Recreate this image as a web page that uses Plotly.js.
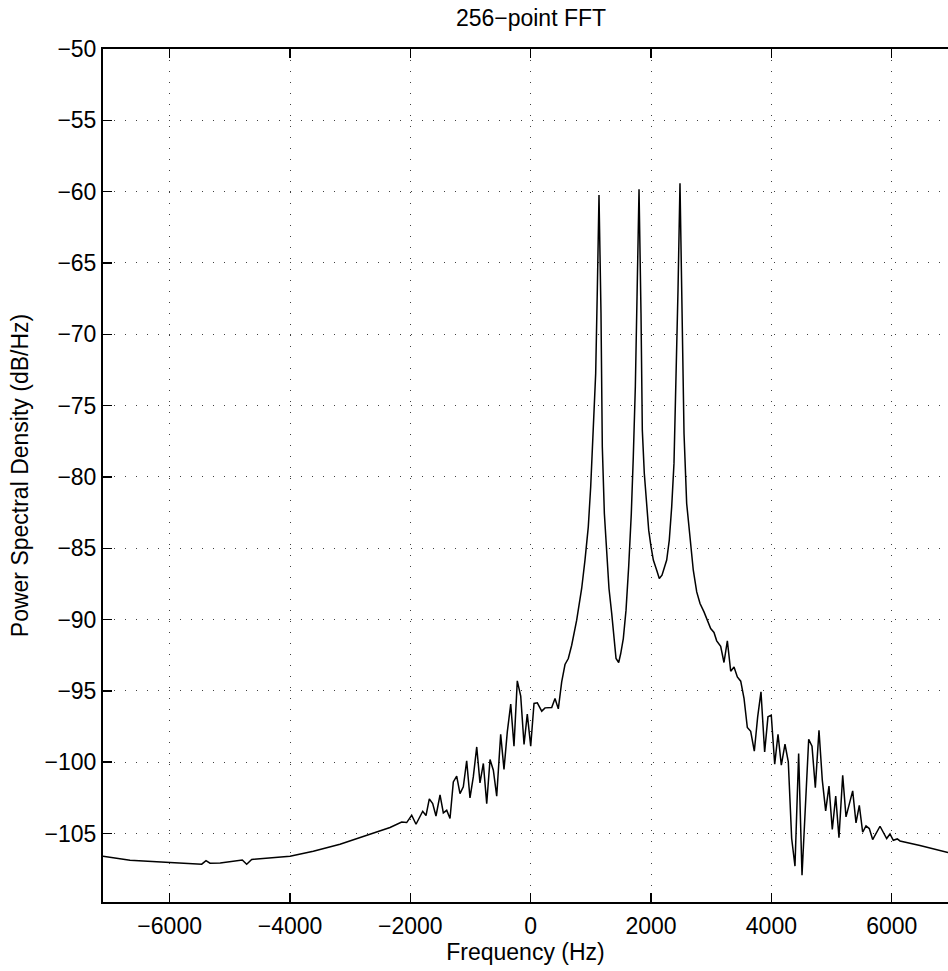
<!DOCTYPE html>
<html>
<head>
<meta charset="utf-8">
<script src="https://cdn.plot.ly/plotly-3.0.1.min.js"></script>
<style>
  html, body { margin: 0; padding: 0; background: #ffffff; overflow: hidden; }
  #chart { width: 948px; height: 971px; }
</style>
</head>
<body>
<div id="chart"></div>
<script>
// Frequency (Hz)
const freqHz = [
  -7108, -6659, -5994, -5467, -5396, -5330, -5160, -4793, -4720, -4637,
  -4000, -3613, -3169, -2725, -2338, -2144, -2061, -1978, -1906, -1795,
  -1740, -1685, -1629, -1574, -1507, -1452, -1396, -1341, -1286, -1230,
  -1175, -1120, -1064, -1009, -954, -897, -843, -787, -731, -676,
  -621, -565, -499, -444, -389, -332, -278, -223, -166, -111,
  -57, 0, 55, 110, 183, 238, 300, 349, 404, 459,
  515, 570, 625, 681, 764, 847, 902, 957, 997, 1040,
  1080, 1107, 1135, 1168, 1190, 1224, 1263, 1301, 1346, 1384,
  1418, 1462, 1496, 1539, 1584, 1628, 1672, 1705, 1739, 1767,
  1800, 1833, 1855, 1888, 1921, 1961, 2000, 2038, 2094, 2137,
  2182, 2220, 2260, 2303, 2343, 2381, 2415, 2448, 2481, 2514,
  2548, 2592, 2647, 2702, 2759, 2814, 2880, 2935, 2991, 3046,
  3091, 3157, 3212, 3268, 3324, 3379, 3434, 3490, 3545, 3600,
  3656, 3716, 3772, 3827, 3888, 3943, 3998, 4055, 4110, 4165,
  4226, 4281, 4337, 4392, 4453, 4509, 4564, 4620, 4675, 4730,
  4791, 4846, 4902, 4957, 5012, 5069, 5123, 5185, 5240, 5295,
  5351, 5406, 5461, 5517, 5572, 5627, 5683, 5805, 5916, 5971,
  6026, 6092, 6137, 6469, 6690, 6935
];

// Power spectral density (dB/Hz)
const psdDb = [
  -106.59, -106.87, -107.03, -107.15, -106.90, -107.08, -107.06, -106.85, -107.15, -106.82,
  -106.59, -106.24, -105.75, -105.12, -104.58, -104.20, -104.23, -103.72, -104.35, -103.44,
  -103.74, -102.57, -102.90, -103.77, -102.29, -103.55, -103.37, -103.95, -101.38, -100.98,
  -102.20, -101.73, -99.90, -102.50, -101.03, -98.93, -101.45, -100.09, -102.90, -99.81,
  -100.56, -102.38, -98.04, -100.51, -97.87, -95.93, -98.88, -94.30, -95.37, -98.76,
  -96.63, -98.88, -95.88, -95.84, -96.42, -96.19, -96.16, -96.16, -95.53, -96.26,
  -94.37, -93.15, -92.73, -91.80, -90.04, -87.82, -85.83, -83.50, -80.69, -76.95,
  -72.74, -66.90, -60.24, -68.53, -77.89, -82.56, -85.60, -87.82, -89.57, -91.21,
  -92.73, -93.01, -92.38, -91.33, -89.34, -86.30, -82.56, -78.59, -73.68, -67.37,
  -59.84, -68.53, -76.72, -79.76, -81.86, -83.73, -84.90, -85.83, -86.54, -87.12,
  -86.89, -86.42, -85.83, -84.43, -82.10, -79.05, -73.68, -66.90, -59.42, -68.53,
  -76.95, -81.86, -84.43, -86.54, -88.06, -88.87, -89.46, -90.04, -90.63, -90.90,
  -91.49, -91.87, -93.01, -91.49, -93.62, -93.32, -94.02, -94.32, -95.53, -97.57,
  -97.83, -99.23, -96.82, -95.07, -99.28, -96.82, -96.70, -100.14, -98.04, -100.21,
  -98.74, -99.98, -105.35, -107.29, -99.39, -107.92, -103.13, -98.39, -98.88, -101.78,
  -97.76, -101.26, -103.41, -101.68, -104.72, -102.38, -105.30, -100.91, -103.83, -102.90,
  -102.01, -104.26, -103.02, -104.91, -104.47, -104.65, -105.42, -104.49, -105.35, -105.03,
  -105.47, -105.38, -105.52, -105.84, -106.08, -106.33
];

const xTicks = [-6000, -4000, -2000, 0, 2000, 4000, 6000];
const yTicks = [-105, -100, -95, -90, -85, -80, -75, -70, -65, -60, -55, -50];

const FONT = '"Liberation Sans", Arial, Helvetica, sans-serif';
const FS = 23;

const trace = {
  x: freqHz,
  y: psdDb,
  type: 'scatter',
  mode: 'lines',
  line: { color: '#000000', width: 1.5 },
  hoverinfo: 'skip'
};

const layout = {
  width: 948,
  height: 971,
  margin: { l: 103, r: 0, t: 49, b: 69 },
  paper_bgcolor: '#ffffff',
  plot_bgcolor: '#ffffff',
  showlegend: false,
  font: { family: FONT, size: FS, color: '#000000' },
  title: {
    text: '256\u2212point FFT',
    font: { family: FONT, size: FS, color: '#000000' },
    xref: 'paper', x: 0.5065, xanchor: 'center',
    yref: 'container', y: 1 - 18 / 971, yanchor: 'middle'
  },
  xaxis: {
    range: [-7108, 6935],
    tickmode: 'array',
    tickvals: xTicks,
    ticktext: xTicks.map(v => v < 0 ? '\u2212' + Math.abs(v) : String(v)),
    ticks: 'inside', ticklen: 9, tickwidth: 1.5, tickcolor: '#000000',
    ticklabelstandoff: 2,
    showline: true, linecolor: '#000000', linewidth: 2, mirror: 'ticks',
    showgrid: true, gridcolor: 'rgba(0,0,0,0.75)', gridwidth: 1, griddash: '1px,10px',
    zeroline: false,
    tickfont: { family: FONT, size: FS, color: '#000000' },
    title: { text: 'Frequency (Hz)', font: { family: FONT, size: FS, color: '#000000' }, standoff: 0 }
  },
  yaxis: {
    range: [-109.8, -50],
    tickmode: 'array',
    tickvals: yTicks,
    ticktext: yTicks.map(v => v < 0 ? '\u2212' + Math.abs(v) : String(v)),
    ticks: 'inside', ticklen: 9, tickwidth: 1.5, tickcolor: '#000000',
    showline: true, linecolor: '#000000', linewidth: 2, mirror: false,
    showgrid: true, gridcolor: 'rgba(0,0,0,0.75)', gridwidth: 1, griddash: '1px,10px',
    zeroline: false,
    tickfont: { family: FONT, size: FS, color: '#000000' },
    title: { text: 'Power Spectral Density (dB/Hz)', font: { family: FONT, size: FS, color: '#000000' }, standoff: 10 }
  }
};

Plotly.newPlot('chart', [trace], layout, { displayModeBar: false, staticPlot: true });
</script>
</body>
</html>
